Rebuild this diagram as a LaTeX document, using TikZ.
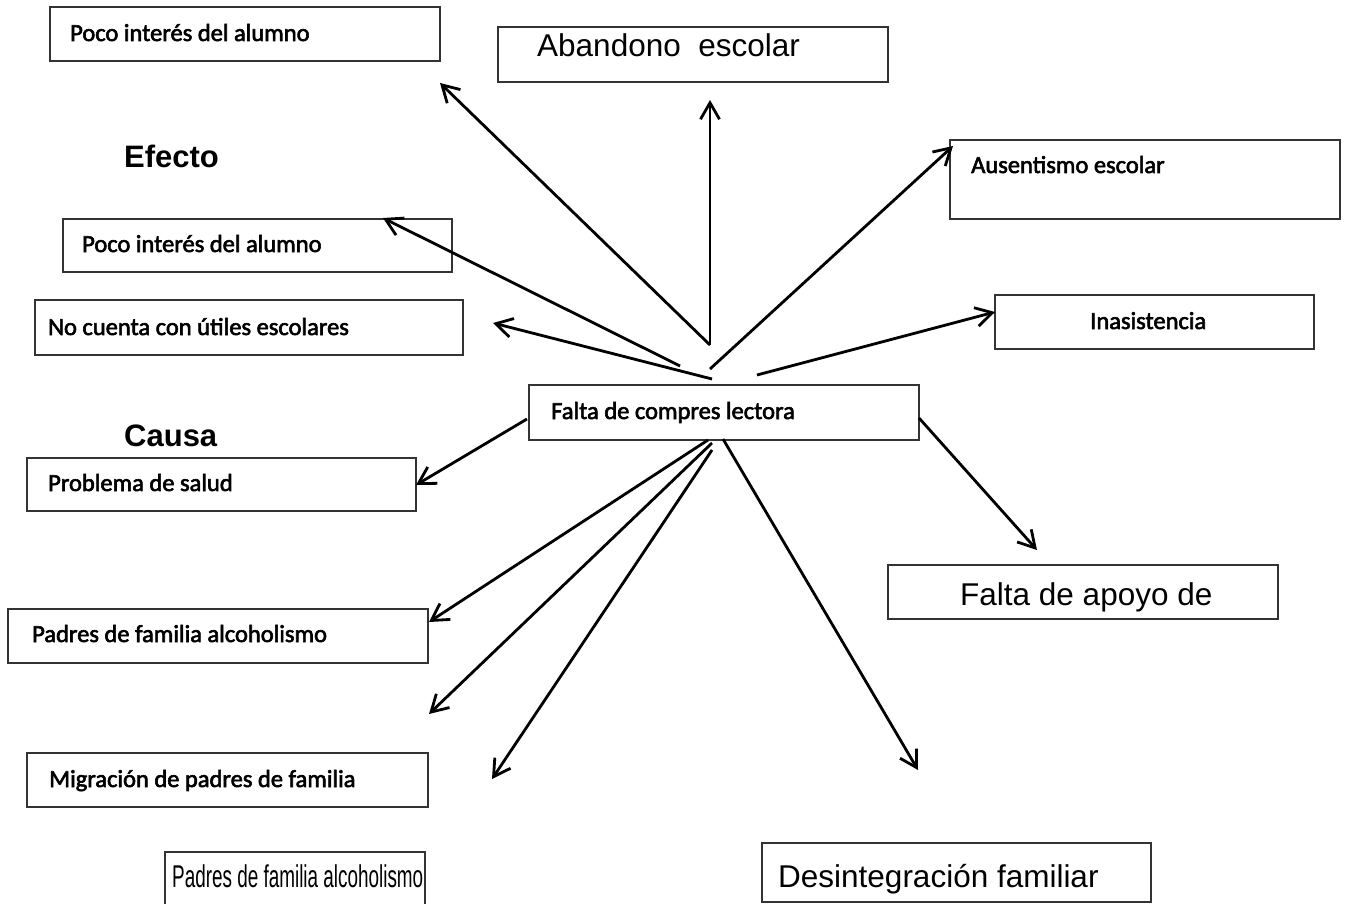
\documentclass[tikz,border=0pt]{standalone}
\usepackage{fontspec}
\usepackage{graphicx}
\usetikzlibrary{arrows.meta}
\newfontfamily\calfont{Carlito}[FakeBold=2.4]
\newfontfamily\arfont{Liberation Sans}
\begin{document}
\begin{tikzpicture}[x=1pt,y=-1pt,
  box/.style={draw=black!80, line width=1.4pt, anchor=north west, inner sep=0pt, outer sep=0pt},
  ctext/.style={anchor=base west, inner sep=0pt, font=\calfont\fontsize{24.5}{29}\selectfont},
  atext/.style={anchor=base west, inner sep=0pt, font=\arfont\fontsize{31.5}{36}\selectfont},
  htext/.style={anchor=base west, inner sep=0pt, font=\arfont\bfseries\fontsize{31}{36}\selectfont},
  arr/.style={line width=2.8pt, -{Straight Barb[angle=60:19pt]}}]
\useasboundingbox (0,0) rectangle (1347,904);
% boxes
\node[box, minimum width=390pt, minimum height=54pt] (b1) at (50,7) {};
\node[box, minimum width=390pt, minimum height=55pt] (b2) at (498,27) {};
\node[box, minimum width=390pt, minimum height=79pt] (b3) at (950,140) {};
\node[box, minimum width=389pt, minimum height=53pt] (b4) at (63,219) {};
\node[box, minimum width=428pt, minimum height=55pt] (b5) at (35,300) {};
\node[box, minimum width=319pt, minimum height=54pt] (b6) at (995,295) {};
\node[box, minimum width=390pt, minimum height=55pt] (b7) at (529,385) {};
\node[box, minimum width=389pt, minimum height=53pt] (b8) at (27,458) {};
\node[box, minimum width=390pt, minimum height=54pt] (b9) at (888,565) {};
\node[box, minimum width=420pt, minimum height=54pt] (b10) at (8,609) {};
\node[box, minimum width=401pt, minimum height=54pt] (b11) at (27,753) {};
\node[box, minimum width=260pt, minimum height=70pt] (b12) at (165,852) {};
\node[box, minimum width=389pt, minimum height=59pt] (b13) at (762,843) {};
% texts
\node[ctext] (t1) at (70,41) {Poco interés del alumno};
\node[atext] (t2) at (537,57) {Abandono\ \ escolar};
\node[ctext] (t3) at (971,173) {Ausentismo escolar};
\node[ctext] (t4) at (82,252) {Poco interés del alumno};
\node[ctext] (t5) at (48,335) {No cuenta con útiles escolares};
\node[ctext] (t6) at (1090,329) {Inasistencia};
\node[ctext] (t7) at (551,419) {Falta de compres lectora};
\node[ctext] (t8) at (48,491) {Problema de salud};
\node[atext] (t9) at (960,605) {Falta de apoyo de};
\node[ctext] (t10) at (32,642) {Padres de familia alcoholismo};
\node[ctext] (t11) at (49,787) {Migración de padres de familia};
\node[atext] (t12) at (172,887) {\scalebox{0.6}[1]{Padres de familia alcoholismo}};
\node[atext] (t13) at (778,887) {Desintegración familiar};
\node[htext] (ef) at (124,168) {Efecto};
\node[htext] (ca) at (124,446) {Causa};
% arrow end points
\coordinate (sa) at (710,345); \coordinate (ea) at (440,83);
\coordinate (sb) at (710,345); \coordinate (eb) at (710,100);
\coordinate (sc) at (710,369); \coordinate (ec) at (953,146);
\coordinate (sd) at (680,366); \coordinate (ed) at (383,218);
\coordinate (se) at (712,379); \coordinate (ee) at (493,323);
\coordinate (sf) at (757,375); \coordinate (ef2) at (995,312);
\coordinate (sg) at (527,419); \coordinate (eg) at (416,485);
\coordinate (sh) at (919,418); \coordinate (eh) at (1037,550);
\coordinate (si) at (708,440); \coordinate (ei) at (429,622);
\coordinate (sj) at (712,443); \coordinate (ej) at (429,714);
\coordinate (sk) at (712,450); \coordinate (ek) at (492,779);
\coordinate (sl) at (723,439); \coordinate (el) at (918,770);
\draw[arr] (sa) -- (ea);
\draw[arr] (sb) -- (eb);
\draw[arr] (sc) -- (ec);
\draw[arr] (sd) -- (ed);
\draw[arr] (se) -- (ee);
\draw[arr] (sf) -- (ef2);
\draw[arr] (sg) -- (eg);
\draw[arr] (sh) -- (eh);
\draw[arr] (si) -- (ei);
\draw[arr] (sj) -- (ej);
\draw[arr] (sk) -- (ek);
\draw[arr] (sl) -- (el);
\end{tikzpicture}
\end{document}
